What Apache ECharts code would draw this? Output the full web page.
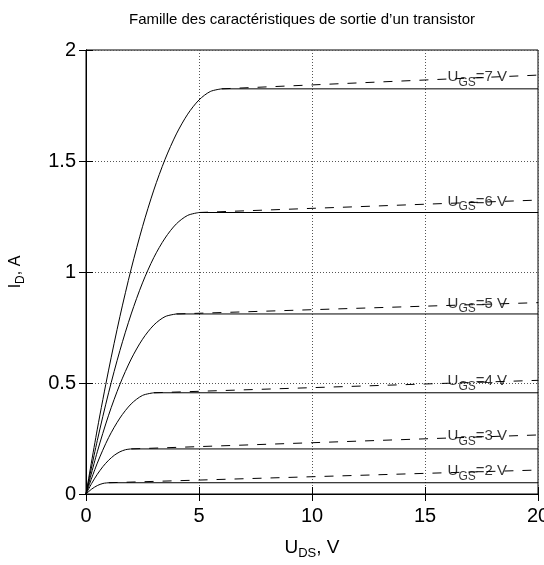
<!DOCTYPE html>
<html><head><meta charset="utf-8">
<script src="https://cdn.jsdelivr.net/npm/echarts@6/dist/echarts.min.js"></script>
<style>html,body{margin:0;padding:0;background:#fff}#c{width:544px;height:565px}</style>
</head><body><div id="c"></div>
<script>
const ugsLevels = [2, 3, 4, 5, 6, 7];
const vds_2 = [0, 0.25, 0.5, 0.75, 1, 20];
const id_2  = [0, 0.022, 0.038, 0.0475, 0.0507, 0.0507];
const vds_3 = [0, 0.25, 0.5, 0.75, 1, 1.25, 1.5, 1.75, 2, 20];
const id_3  = [0, 0.0475, 0.0887, 0.1236, 0.152, 0.1743, 0.190, 0.1996, 0.203, 0.203];
const vds_4 = [0, 0.5, 1, 1.5, 2, 2.5, 3, 20];
const id_4  = [0, 0.139, 0.254, 0.342, 0.406, 0.444, 0.456, 0.456];
const vds_5 = [0, 0.5, 1, 1.5, 2, 2.5, 3, 3.5, 4, 20];
const id_5  = [0, 0.190, 0.355, 0.494, 0.608, 0.697, 0.761, 0.799, 0.811, 0.811];
const vds_6 = [0, 0.5, 1, 1.5, 2, 2.5, 3, 3.5, 4, 4.5, 5, 20];
const id_6  = [0, 0.241, 0.456, 0.646, 0.811, 0.951, 1.065, 1.153, 1.217, 1.255, 1.268, 1.268];
const vds_7 = [0, 0.5, 1, 1.5, 2, 2.5, 3, 3.5, 4, 4.5, 5, 5.5, 6, 20];
const id_7  = [0, 0.292, 0.558, 0.799, 1.014, 1.204, 1.369, 1.508, 1.622, 1.711, 1.775, 1.813, 1.825, 1.825];

const kneeVds = [1, 2, 3, 4, 5, 6];
const kneeId  = [0.0507, 0.203, 0.456, 0.811, 1.268, 1.825];
const dashEndVds = 20;
const dashEndId  = [0.108, 0.266, 0.512, 0.862, 1.324, 1.887];
const labelVds = 16;

const xTicks = [0, 5, 10, 15, 20];
const yTicks = [0, 0.5, 1, 1.5, 2];

const FONT = '"Liberation Sans Narrow", "Liberation Sans", Arial, sans-serif';
const curves = [[vds_2, id_2], [vds_3, id_3], [vds_4, id_4], [vds_5, id_5], [vds_6, id_6], [vds_7, id_7]];

const series = [];
curves.forEach(([xs, ys]) => {
  const n = xs.length;
  // rising (ohmic) part, smoothed
  series.push({
    type: 'line', data: xs.slice(0, n - 1).map((x, i) => [x, ys[i]]), showSymbol: false, symbol: 'none',
    smooth: 0.3,
    lineStyle: { color: '#000', width: 1 }, silent: true, z: 2
  });
  // saturation plateau
  series.push({
    type: 'line', data: [[xs[n - 2], ys[n - 2]], [xs[n - 1], ys[n - 1]]], showSymbol: false, symbol: 'none',
    lineStyle: { color: '#000', width: 1 }, silent: true, z: 2
  });
});
ugsLevels.forEach((u, i) => {
  series.push({
    type: 'line', data: [[kneeVds[i], kneeId[i]], [dashEndVds, dashEndId[i]]], showSymbol: false, symbol: 'none',
    lineStyle: { color: '#000', width: 1, type: [9, 9] }, silent: true, z: 4
  });
});
const labelData = ugsLevels.map((u, i) => {
  const t = (labelVds - kneeVds[i]) / (dashEndVds - kneeVds[i]);
  return { value: [labelVds, kneeId[i] + t * (dashEndId[i] - kneeId[i])], u: u };
});
series.push({
  type: 'scatter', data: labelData, symbolSize: 0, silent: true, z: 3,
  label: {
    show: true, position: 'right', distance: 0,
    formatter: p => '{m|U}{s|GS}{m|=' + p.data.u + ' V}',
    rich: {
      m: { fontFamily: FONT, fontSize: 15, color: '#000', verticalAlign: 'top', lineHeight: 16 },
      s: { fontFamily: FONT, fontSize: 12, color: '#000', verticalAlign: 'top', padding: [7, 0, 0, 0] }
    }
  }
});

const chart = echarts.init(document.getElementById('c'), null, { renderer: 'canvas' });
chart.setOption({
  animation: false,
  backgroundColor: '#fff',
  title: {
    text: 'Famille des caractéristiques de sortie d\u2019un transistor',
    left: 297, textAlign: 'center', top: 7,
    textStyle: { fontFamily: FONT, fontSize: 15, fontWeight: 'normal', color: '#000' }
  },
  grid: { left: 86, right: 6, top: 50, bottom: 71, show: true, borderColor: '#000', borderWidth: 1, backgroundColor: 'transparent', containLabel: false, outerBoundsMode: 'none' },
  xAxis: [{
    type: 'value', min: xTicks[0], max: xTicks[xTicks.length - 1], interval: xTicks[1] - xTicks[0],
    axisLine: { show: true, lineStyle: { color: '#000', width: 1 } },
    axisTick: { show: true, inside: true, length: 7, lineStyle: { color: '#000' } },
    axisLabel: { fontFamily: FONT, fontSize: 20, color: '#000', margin: 12, hideOverlap: false },
    splitLine: { show: true, lineStyle: { color: '#555', width: 1, type: [1, 2] } },
    name: '{m|U}{s|DS}{m|, V}', nameLocation: 'middle', nameGap: 44,
    nameTextStyle: {
      rich: {
        m: { fontFamily: FONT, fontSize: 19, color: '#000', verticalAlign: 'top', lineHeight: 20 },
        s: { fontFamily: FONT, fontSize: 13, color: '#000', verticalAlign: 'top', padding: [9, 0, 0, 0] }
      }
    }
  }, {
    type: 'value', position: 'top', min: xTicks[0], max: xTicks[xTicks.length - 1], interval: xTicks[1] - xTicks[0],
    axisLine: { show: true, lineStyle: { color: '#000', width: 1 } },
    axisTick: { show: true, inside: true, length: 7, lineStyle: { color: '#000' } },
    axisLabel: { show: false }, splitLine: { show: false }
  }],
  yAxis: [{
    type: 'value', min: yTicks[0], max: yTicks[yTicks.length - 1], interval: yTicks[1] - yTicks[0],
    axisLine: { show: true, lineStyle: { color: '#000', width: 1 } },
    axisTick: { show: true, inside: true, length: 7, lineStyle: { color: '#000' } },
    axisLabel: { fontFamily: FONT, fontSize: 20, color: '#000', margin: 10 },
    splitLine: { show: true, lineStyle: { color: '#555', width: 1, type: [1, 2] } },
    name: '{m|I}{s|D}{m|, A}', nameLocation: 'middle', nameGap: 59, nameRotate: 90,
    nameTextStyle: {
      rich: {
        m: { fontFamily: '"Liberation Sans", Arial, sans-serif', fontSize: 16, color: '#000', verticalAlign: 'top', lineHeight: 17 },
        s: { fontFamily: '"Liberation Sans", Arial, sans-serif', fontSize: 12, color: '#000', verticalAlign: 'top', padding: [7, 0, 0, 0] }
      }
    }
  }, {
    type: 'value', position: 'right', min: yTicks[0], max: yTicks[yTicks.length - 1], interval: yTicks[1] - yTicks[0],
    axisLine: { show: true, lineStyle: { color: '#000', width: 1 } },
    axisTick: { show: true, inside: true, length: 7, lineStyle: { color: '#000' } },
    axisLabel: { show: false }, splitLine: { show: false }
  }],
  series: series
});
</script></body></html>
